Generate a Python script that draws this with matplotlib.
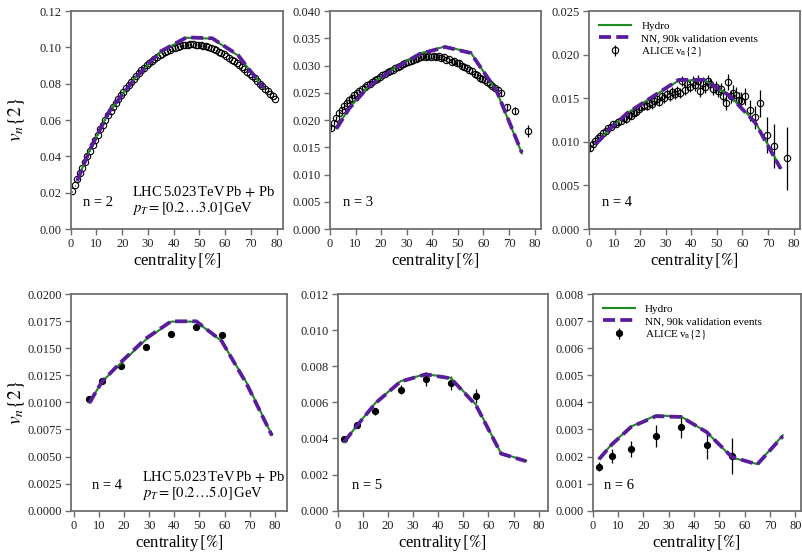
import numpy as np
import matplotlib
matplotlib.use("Agg")
import matplotlib.pyplot as plt

plt.rcParams['font.family'] = 'serif'
plt.rcParams['font.serif'] = ['Liberation Serif', 'DejaVu Serif']
plt.rcParams['mathtext.fontset'] = 'stix'

GREEN = '#1f8a1f'
PURPLE = '#581c9c'
AXCOL = '#6e6e6e'

# model centrality bins (bin centres, %)
cent_model = [2.5, 7.5, 15, 25, 35, 45, 55, 65, 75]
cent_alice_wide = [2.5, 7.5, 15, 25, 35, 45, 55]

# ---- top row, pT = [0.2 ... 3.0] GeV
hydro_n2 = [0.0268, 0.0440, 0.0650, 0.0832, 0.0975, 0.1053, 0.1048, 0.0955, 0.0778]
nn_n2 = [0.0265, 0.0438, 0.0648, 0.0830, 0.0978, 0.1055, 0.1050, 0.0958, 0.0775]
hydro_n3 = [0.0185, 0.0222, 0.0262, 0.0295, 0.0322, 0.0335, 0.0324, 0.0254, 0.0139]
nn_n3 = [0.0184, 0.0221, 0.0261, 0.0294, 0.0321, 0.0334, 0.0323, 0.0255, 0.0140]
hydro_n4 = [0.0098, 0.0113, 0.0133, 0.0152, 0.0170, 0.0171, 0.0153, 0.0123, 0.0070]
nn_n4 = [0.0097, 0.0113, 0.0133, 0.0152, 0.0171, 0.0171, 0.0153, 0.0122, 0.0069]

alice_n2 = [0.0207, 0.0240, 0.0273, 0.0306, 0.0338, 0.0370, 0.0401, 0.0432, 0.0462, 0.0491,
            0.0520, 0.0548, 0.0575, 0.0601, 0.0626, 0.0650, 0.0673, 0.0695, 0.0716, 0.0736,
            0.0756, 0.0775, 0.0793, 0.0811, 0.0828, 0.0844, 0.0859, 0.0874, 0.0888, 0.0901,
            0.0913, 0.0925, 0.0936, 0.0946, 0.0956, 0.0965, 0.0973, 0.0981, 0.0988, 0.0994,
            0.0999, 0.1004, 0.1008, 0.1011, 0.1013, 0.1015, 0.1016, 0.1016, 0.1015, 0.1014,
            0.1012, 0.1009, 0.1005, 0.1000, 0.0995, 0.0990, 0.0984, 0.0977, 0.0969, 0.0961,
            0.0952, 0.0943, 0.0933, 0.0923, 0.0913, 0.0902, 0.0891, 0.0879, 0.0867, 0.0855,
            0.0842, 0.0829, 0.0815, 0.0801, 0.0787, 0.0773, 0.0759, 0.0745, 0.0731, 0.0718]
cent_n2 = np.arange(0.5, 80, 1.0)

alice_n3 = [0.0186, 0.0195, 0.0204, 0.0212, 0.0219, 0.0225, 0.0231, 0.0236, 0.0241, 0.0245,
            0.0249, 0.0253, 0.0257, 0.0260, 0.0264, 0.0267, 0.0270, 0.0273, 0.0276, 0.0279,
            0.0282, 0.0285, 0.0288, 0.0290, 0.0292, 0.0295, 0.0297, 0.0299, 0.0302, 0.0304,
            0.0306, 0.0308, 0.0310, 0.0312, 0.0313, 0.0315, 0.0317, 0.0316, 0.0318, 0.0316,
            0.0317, 0.0315, 0.0317, 0.0313, 0.0315, 0.0311, 0.0312, 0.0307, 0.0309, 0.0304,
            0.0305, 0.0300, 0.0298, 0.0296, 0.0292, 0.0290, 0.0285, 0.0283, 0.0278, 0.0276,
            0.0273, 0.0270, 0.0266, 0.0263, 0.0259, 0.0256]
cent_n3 = np.arange(0.5, 66, 1.0)
cent_n3_tail = [67, 69, 72.5, 77.5]
alice_n3_tail = [0.0249, 0.0223, 0.0217, 0.0180]
err_n3_tail = [0.0005, 0.0006, 0.0006, 0.0011]

alice_n4 = [0.0093, 0.0098, 0.0101, 0.0104, 0.0107, 0.0110, 0.0112, 0.0116, 0.0117, 0.0120,
            0.0121, 0.0123, 0.0124, 0.0127, 0.0126, 0.0131, 0.0130, 0.0133, 0.0134, 0.0138,
            0.0140, 0.0142, 0.0141, 0.0145, 0.0143, 0.0147, 0.0149, 0.0146, 0.0152, 0.0150,
            0.0155, 0.0153, 0.0157, 0.0155, 0.0158, 0.0156, 0.0170, 0.0160, 0.0166, 0.0163,
            0.0169, 0.0165, 0.0170, 0.0158, 0.0167, 0.0163, 0.0170, 0.0166, 0.0161, 0.0163]
err_n4 = [0.0003, 0.0003, 0.0003, 0.0003, 0.0003, 0.0003, 0.0003, 0.0003, 0.0003, 0.0003,
          0.0004, 0.0004, 0.0004, 0.0004, 0.0004, 0.0004, 0.0004, 0.0004, 0.0004, 0.0004,
          0.0005, 0.0005, 0.0005, 0.0005, 0.0005, 0.0005, 0.0005, 0.0005, 0.0005, 0.0005,
          0.0006, 0.0006, 0.0006, 0.0006, 0.0006, 0.0006, 0.0006, 0.0006, 0.0006, 0.0006,
          0.0007, 0.0007, 0.0007, 0.0007, 0.0007, 0.0007, 0.0007, 0.0007, 0.0007, 0.0007]
cent_n4 = np.arange(0.5, 50, 1.0)
cent_n4_tail = [50.5, 51.5, 52.5, 53.5, 54.5, 55.5, 56.5, 57.5, 58.5, 59.5,
                61, 63, 65, 67, 69.5, 72.5, 77.5]
alice_n4_tail = [0.0158, 0.0161, 0.0153, 0.0144, 0.0169, 0.0152, 0.0156, 0.0154, 0.0148, 0.0147,
                 0.0152, 0.0136, 0.0128, 0.0144, 0.0108, 0.0095, 0.0081]
err_n4_tail = [0.0007, 0.0007, 0.0008, 0.0008, 0.0009, 0.0008, 0.0009, 0.0009, 0.0009, 0.0010,
               0.0010, 0.0012, 0.0013, 0.0015, 0.0021, 0.0025, 0.0036]

# ---- bottom row, pT = [0.2 ... 5.0] GeV
hydro_b4 = [0.00997, 0.0119, 0.0136, 0.0158, 0.01745, 0.01745, 0.01566, 0.0118, 0.00698]
nn_b4 = [0.00995, 0.0119, 0.0137, 0.0159, 0.01748, 0.01748, 0.01568, 0.0117, 0.00695]
alice_b4 = [0.01028, 0.01197, 0.01335, 0.01508, 0.01631, 0.01698, 0.01622]
err_b4 = [0.0002, 0.0002, 0.00025, 0.00025, 0.0003, 0.0003, 0.0003]

hydro_b5 = [0.0038, 0.00469, 0.00597, 0.00717, 0.00757, 0.00735, 0.00588, 0.00318, 0.00276]
nn_b5 = [0.0038, 0.00468, 0.00595, 0.00715, 0.00755, 0.00733, 0.00585, 0.00316, 0.00274]
alice_b5 = [0.00395, 0.00472, 0.00551, 0.00671, 0.0073, 0.00708, 0.00634]
err_b5 = [0.0001, 0.00015, 0.0002, 0.00025, 0.0004, 0.0004, 0.0004]

hydro_b6 = [0.00192, 0.00245, 0.0031, 0.00352, 0.00347, 0.0029, 0.00196, 0.00172, 0.00278]
nn_b6 = [0.0019, 0.00244, 0.00308, 0.00349, 0.00346, 0.0029, 0.00198, 0.00171, 0.00275]
alice_b6 = [0.00163, 0.00202, 0.00227, 0.00276, 0.0031, 0.00241, 0.00202]
err_b6 = [0.00018, 0.00025, 0.0003, 0.0004, 0.00043, 0.0005, 0.00066]

xticks = [0, 10, 20, 30, 40, 50, 60, 70, 80]

fig = plt.figure(figsize=(8.02, 5.54), dpi=100)


def style(ax, ylim, ystep, fmt, xlim, xshift=0.0):
    ax.set_xlim(*xlim)
    ax.set_ylim(*ylim)
    ax.set_xticks([t - xshift for t in xticks], [str(t) for t in xticks])
    yt = np.arange(ylim[0], ylim[1] + ystep / 2, ystep)
    ax.set_yticks(yt, [fmt.format(v) for v in yt])
    for sp in ax.spines.values():
        sp.set_color(AXCOL)
        sp.set_linewidth(1.3)
    ax.tick_params(direction='out', length=4.5, width=1.0, color=AXCOL,
                   labelsize=9, pad=2, labelcolor='#222222')
    ax.set_xlabel(r'centrality$\,[\%]$', fontsize=12, labelpad=1)


def models(ax, x, hydro, nn, label=False):
    ax.plot(x, hydro, color=GREEN, lw=1.5, label='Hydro' if label else None, zorder=3)
    ax.plot(x, nn, color=PURPLE, lw=2.7, dashes=(3.2, 1.4),
            label='NN, 90k validation events' if label else None, zorder=4)


def alice(ax, x, y, err, filled, label=False):
    ax.errorbar(x, y, yerr=err, fmt='o', ms=4.6 if not filled else 4.4,
                mfc='black' if filled else 'none', mec='black', mew=0.8,
                ecolor='black', elinewidth=0.9, capsize=0, zorder=2,
                label=r'ALICE$\,$v$_{\rm n}\{2\}$' if label else None)


def legend(ax):
    ax.legend(loc='upper left', frameon=False, fontsize=8, handlelength=2.9,
              handletextpad=0.9, borderaxespad=0.5, labelspacing=0.22,
              bbox_to_anchor=(0.0, 1.0))


def labels(ax, n, lhc=None, nx=0.06, ny=0.12, lx=0.29, ly=0.17):
    ax.text(nx, ny, 'n = %d' % n, transform=ax.transAxes, fontsize=10.5, va='center')
    if lhc:
        ax.text(lx, ly, 'LHC$\\,$5.023$\\,$TeV$\\,$Pb$\\,+\\,$Pb', transform=ax.transAxes,
                fontsize=10.5, va='center')
        ax.text(lx, ly - 0.075, r'$p_T=[0.2\ldots %s]\,$GeV' % lhc, transform=ax.transAxes,
                fontsize=10.5, va='center')


def ylabel(ax):
    ax.set_ylabel(r'$v_n\{2\}$', fontsize=14)
    ax.yaxis.set_label_coords(-0.205, 0.5)


# top row
ax = fig.add_axes([0.0882, 0.5866, 0.2647, 0.3935])
models(ax, cent_model, hydro_n2, nn_n2)
alice(ax, cent_n2, alice_n2, 0.0002, False)
style(ax, (0, 0.12), 0.02, '{:.2f}', (0, 82.5))
ylabel(ax)
labels(ax, 2, '3.0')

ax = fig.add_axes([0.4115, 0.5866, 0.2631, 0.3935])
models(ax, cent_model, hydro_n3, nn_n3)
alice(ax, cent_n3, alice_n3, 0.0004, False)
alice(ax, cent_n3_tail, alice_n3_tail, err_n3_tail, False)
style(ax, (0, 0.04), 0.005, '{:.3f}', (0, 82.5))
labels(ax, 3)

ax = fig.add_axes([0.7344, 0.5866, 0.2630, 0.3935])
models(ax, cent_model, hydro_n4, nn_n4, label=True)
alice(ax, cent_n4, alice_n4, err_n4, False, label=True)
alice(ax, cent_n4_tail, alice_n4_tail, err_n4_tail, False)
style(ax, (0, 0.025), 0.005, '{:.3f}', (0, 82.5))
labels(ax, 4)
legend(ax)

# bottom row
ax = fig.add_axes([0.0885, 0.0782, 0.2693, 0.3911])
models(ax, cent_model, hydro_b4, nn_b4)
alice(ax, cent_alice_wide, alice_b4, err_b4, True)
style(ax, (0, 0.02), 0.0025, '{:.4f}', (-4.8, 81.0), xshift=3.75)
ylabel(ax)
labels(ax, 4, '5.0', nx=0.096, ny=0.118, lx=0.327, ly=0.157)

ax = fig.add_axes([0.4211, 0.0782, 0.2622, 0.3911])
models(ax, cent_model, hydro_b5, nn_b5)
alice(ax, cent_alice_wide, alice_b5, err_b5, True)
style(ax, (0, 0.012), 0.002, '{:.3f}', (0, 83.7))
labels(ax, 5, nx=0.066, ny=0.114)

ax = fig.add_axes([0.7390, 0.0782, 0.2597, 0.3911])
models(ax, cent_model, hydro_b6, nn_b6, label=True)
alice(ax, cent_alice_wide, alice_b6, err_b6, True, label=True)
style(ax, (0, 0.008), 0.001, '{:.3f}', (0, 82.2))
labels(ax, 6, nx=0.054, ny=0.118)
legend(ax)

fig.savefig('out.png', dpi=100)
